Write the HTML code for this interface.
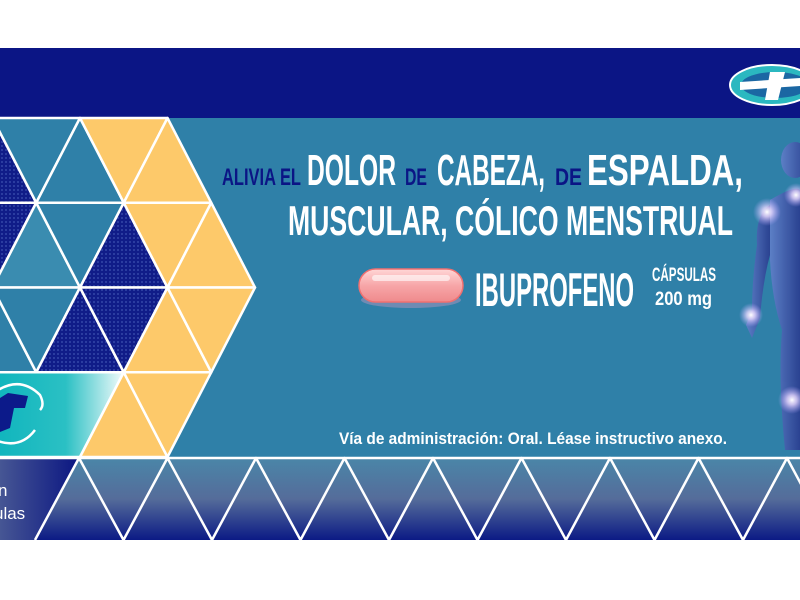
<!DOCTYPE html>
<html><head><meta charset="utf-8"><style>
html,body{margin:0;padding:0;background:#fff;width:800px;height:600px;overflow:hidden}
svg{display:block}
text{font-family:"Liberation Sans Narrow","Liberation Sans",sans-serif;font-weight:bold}
</style></head><body>
<svg width="800" height="600" viewBox="0 0 800 600" xmlns="http://www.w3.org/2000/svg">
<defs>
<pattern id="dots" width="4" height="4" patternUnits="userSpaceOnUse">
<rect width="4" height="4" fill="#101c88"/>
<circle cx="2" cy="2" r="1" fill="#3346a8"/>
</pattern>
<linearGradient id="ban" x1="0" x2="1" y1="0" y2="0">
<stop offset="0" stop-color="#0fb5bd"/><stop offset="0.55" stop-color="#2bc0c4"/><stop offset="1" stop-color="#f2fbfb"/>
</linearGradient>
<linearGradient id="strip" x1="0" x2="0" y1="0" y2="1">
<stop offset="0" stop-color="#4a86a8"/><stop offset="0.5" stop-color="#556c9a"/><stop offset="1" stop-color="#0b1a85"/>
</linearGradient>
<linearGradient id="lbox" x1="0" x2="1" y1="0" y2="0">
<stop offset="0" stop-color="#4a5a95"/><stop offset="1" stop-color="#0b1682"/>
</linearGradient>
<radialGradient id="glow"><stop offset="0" stop-color="#fff" stop-opacity="1"/><stop offset="0.35" stop-color="#e8d8ff" stop-opacity="0.8"/><stop offset="1" stop-color="#b9a8ff" stop-opacity="0"/></radialGradient>
<linearGradient id="body" x1="0" x2="1"><stop offset="0" stop-color="#5f7fc8"/><stop offset="1" stop-color="#2a3f90"/></linearGradient>
<linearGradient id="pill" x1="0" x2="0" y1="0" y2="1"><stop offset="0" stop-color="#ffd6d6"/><stop offset="0.5" stop-color="#f7a6a8"/><stop offset="1" stop-color="#ef8a8c"/></linearGradient>
</defs>

<!-- main panels -->
<rect x="0" y="48" width="800" height="71" fill="#0b1585"/>
<rect x="0" y="118" width="800" height="340" fill="#2f80a8"/>

<!-- body figure -->
<g fill="url(#body)" opacity="0.95">
<ellipse cx="795" cy="160" rx="14" ry="18"/>
<path d="M770 200 Q795 185 800 190 L800 450 L785 450 Q778 380 782 330 Q772 300 770 260 Z"/>
<path d="M770 205 Q755 215 757 245 Q752 280 752 310 L746 325 L752 338 L760 318 Q763 280 770 255 Z"/>
</g>
<circle cx="767" cy="212" r="14" fill="url(#glow)"/>
<circle cx="796" cy="195" r="12" fill="url(#glow)"/>
<circle cx="751" cy="315" r="12" fill="url(#glow)"/>
<circle cx="792" cy="400" r="14" fill="url(#glow)"/>

<!-- triangle lattice -->
<g stroke="#fff" stroke-width="2.5" stroke-linejoin="round">
<!-- row 0 -->
<polygon points="-51.25,202.75 -7.5,118 36.25,202.75" fill="url(#dots)"/>
<polygon points="-7.5,118 80,118 36.25,202.75" fill="#2f80a8"/>
<polygon points="36.25,202.75 80,118 123.75,202.75" fill="#2f80a8"/>
<polygon points="80,118 167.5,118 123.75,202.75" fill="#fdc96a"/>
<polygon points="123.75,202.75 167.5,118 211.25,202.75" fill="#fdc96a"/>
<!-- row 1 -->
<polygon points="-51.25,202.75 36.25,202.75 -7.5,287.5" fill="url(#dots)"/>
<polygon points="-7.5,287.5 36.25,202.75 80,287.5" fill="#3a8cb0"/>
<polygon points="36.25,202.75 123.75,202.75 80,287.5" fill="#2f80a8"/>
<polygon points="80,287.5 123.75,202.75 167.5,287.5" fill="url(#dots)"/>
<polygon points="123.75,202.75 211.25,202.75 167.5,287.5" fill="#fdc96a"/>
<polygon points="167.5,287.5 211.25,202.75 255,287.5" fill="#fdc96a"/>
<!-- row 2 -->
<polygon points="-51.25,372.25 -7.5,287.5 36.25,372.25" fill="#2f80a8"/>
<polygon points="-7.5,287.5 80,287.5 36.25,372.25" fill="#2f80a8"/>
<polygon points="36.25,372.25 80,287.5 123.75,372.25" fill="url(#dots)"/>
<polygon points="80,287.5 167.5,287.5 123.75,372.25" fill="url(#dots)"/>
<polygon points="123.75,372.25 167.5,287.5 211.25,372.25" fill="#fdc96a"/>
<polygon points="167.5,287.5 255,287.5 211.25,372.25" fill="#fdc96a"/>
<!-- row 3 -->
<polygon points="-5,372.25 123.75,372.25 80,457 -5,457" fill="url(#ban)"/>
<polygon points="80,457 123.75,372.25 167.5,457" fill="#fdc96a"/>
<polygon points="123.75,372.25 211.25,372.25 167.5,457" fill="#fdc96a"/>
</g>

<!-- banner logo -->
<g>
<path d="M-5 392 Q20 375 40 395 Q45 405 40 410" fill="none" stroke="#fff" stroke-width="2.5"/>
<path d="M-5 440 Q20 450 35 430" fill="none" stroke="#fff" stroke-width="2.5"/>
<path d="M0 398 L8 393 L28 396 L25 408 L14 408 L10 428 L0 432 Z" fill="#0c1a8a"/>
</g>

<!-- bottom strip -->
<rect x="0" y="458" width="800" height="82" fill="url(#strip)"/>
<polygon points="-5,458 79,458 35,540 -5,540" fill="url(#lbox)"/>
<g fill="none" stroke="#fff" stroke-width="2.5" stroke-linejoin="round">
<line x1="0" y1="458" x2="800" y2="458"/>
<polyline points="35,540 79,458 123.5,540 167.5,458 212,540 256,458 300.5,540 344.5,458 389,540 433,458 477.5,540 521.5,458 566,540 610,458 654.5,540 698.5,458 743,540 787,458 831,540"/>
</g>
<text x="-2" y="496" font-size="17" fill="#fff" style="font-weight:normal">n</text>
<text x="-6" y="519" font-size="17" fill="#fff" style="font-weight:normal">ulas</text>

<!-- top logo -->
<g>
<ellipse cx="772" cy="85" rx="42" ry="20" fill="#2bb8c0" stroke="#fff" stroke-width="2"/>
<ellipse cx="775" cy="85" rx="34" ry="13" fill="#0b1585" opacity="0.5"/>
<path d="M740 82 L800 78 L800 86 L740 90 Z" fill="#fff"/>
<path d="M770 72 L785 72 L778 100 L765 100 Z" fill="#fff"/>
</g>

<!-- headline -->
<text x="222" y="185" font-size="24" fill="#0b1585" textLength="79" lengthAdjust="spacingAndGlyphs">ALIVIA EL</text>
<text x="307" y="185" font-size="44" fill="#fff" textLength="89" lengthAdjust="spacingAndGlyphs">DOLOR</text>
<text x="405" y="185" font-size="24" fill="#0b1585" textLength="22" lengthAdjust="spacingAndGlyphs">DE</text>
<text x="437" y="185" font-size="44" fill="#fff" textLength="108" lengthAdjust="spacingAndGlyphs">CABEZA,</text>
<text x="555" y="185" font-size="24" fill="#0b1585" textLength="27" lengthAdjust="spacingAndGlyphs">DE</text>
<text x="587" y="185" font-size="44" fill="#fff" textLength="156" lengthAdjust="spacingAndGlyphs">ESPALDA,</text>
<text x="288" y="235" font-size="42" fill="#fff" textLength="445" lengthAdjust="spacingAndGlyphs">MUSCULAR, CÓLICO MENSTRUAL</text>

<!-- pill -->
<ellipse cx="411" cy="300" rx="50" ry="8" fill="#e9a0c8" opacity="0.35"/>
<rect x="359" y="269" width="104" height="33" rx="16.5" fill="url(#pill)" stroke="#f07070" stroke-width="1.5"/>
<rect x="372" y="275" width="78" height="6" rx="3" fill="#fff" opacity="0.6"/>

<text x="475" y="306" font-size="47" fill="#fff" textLength="159" lengthAdjust="spacingAndGlyphs">IBUPROFENO</text>
<text x="652" y="281" font-size="19" fill="#fff" textLength="64" lengthAdjust="spacingAndGlyphs">CÁPSULAS</text>
<text x="655" y="305" font-size="19" fill="#fff" textLength="57" lengthAdjust="spacingAndGlyphs">200 mg</text>

<text x="339" y="444" font-size="17" fill="#fff" textLength="388" lengthAdjust="spacingAndGlyphs">Vía de administración: Oral.  Léase instructivo anexo.</text>
</svg>
</body></html>
